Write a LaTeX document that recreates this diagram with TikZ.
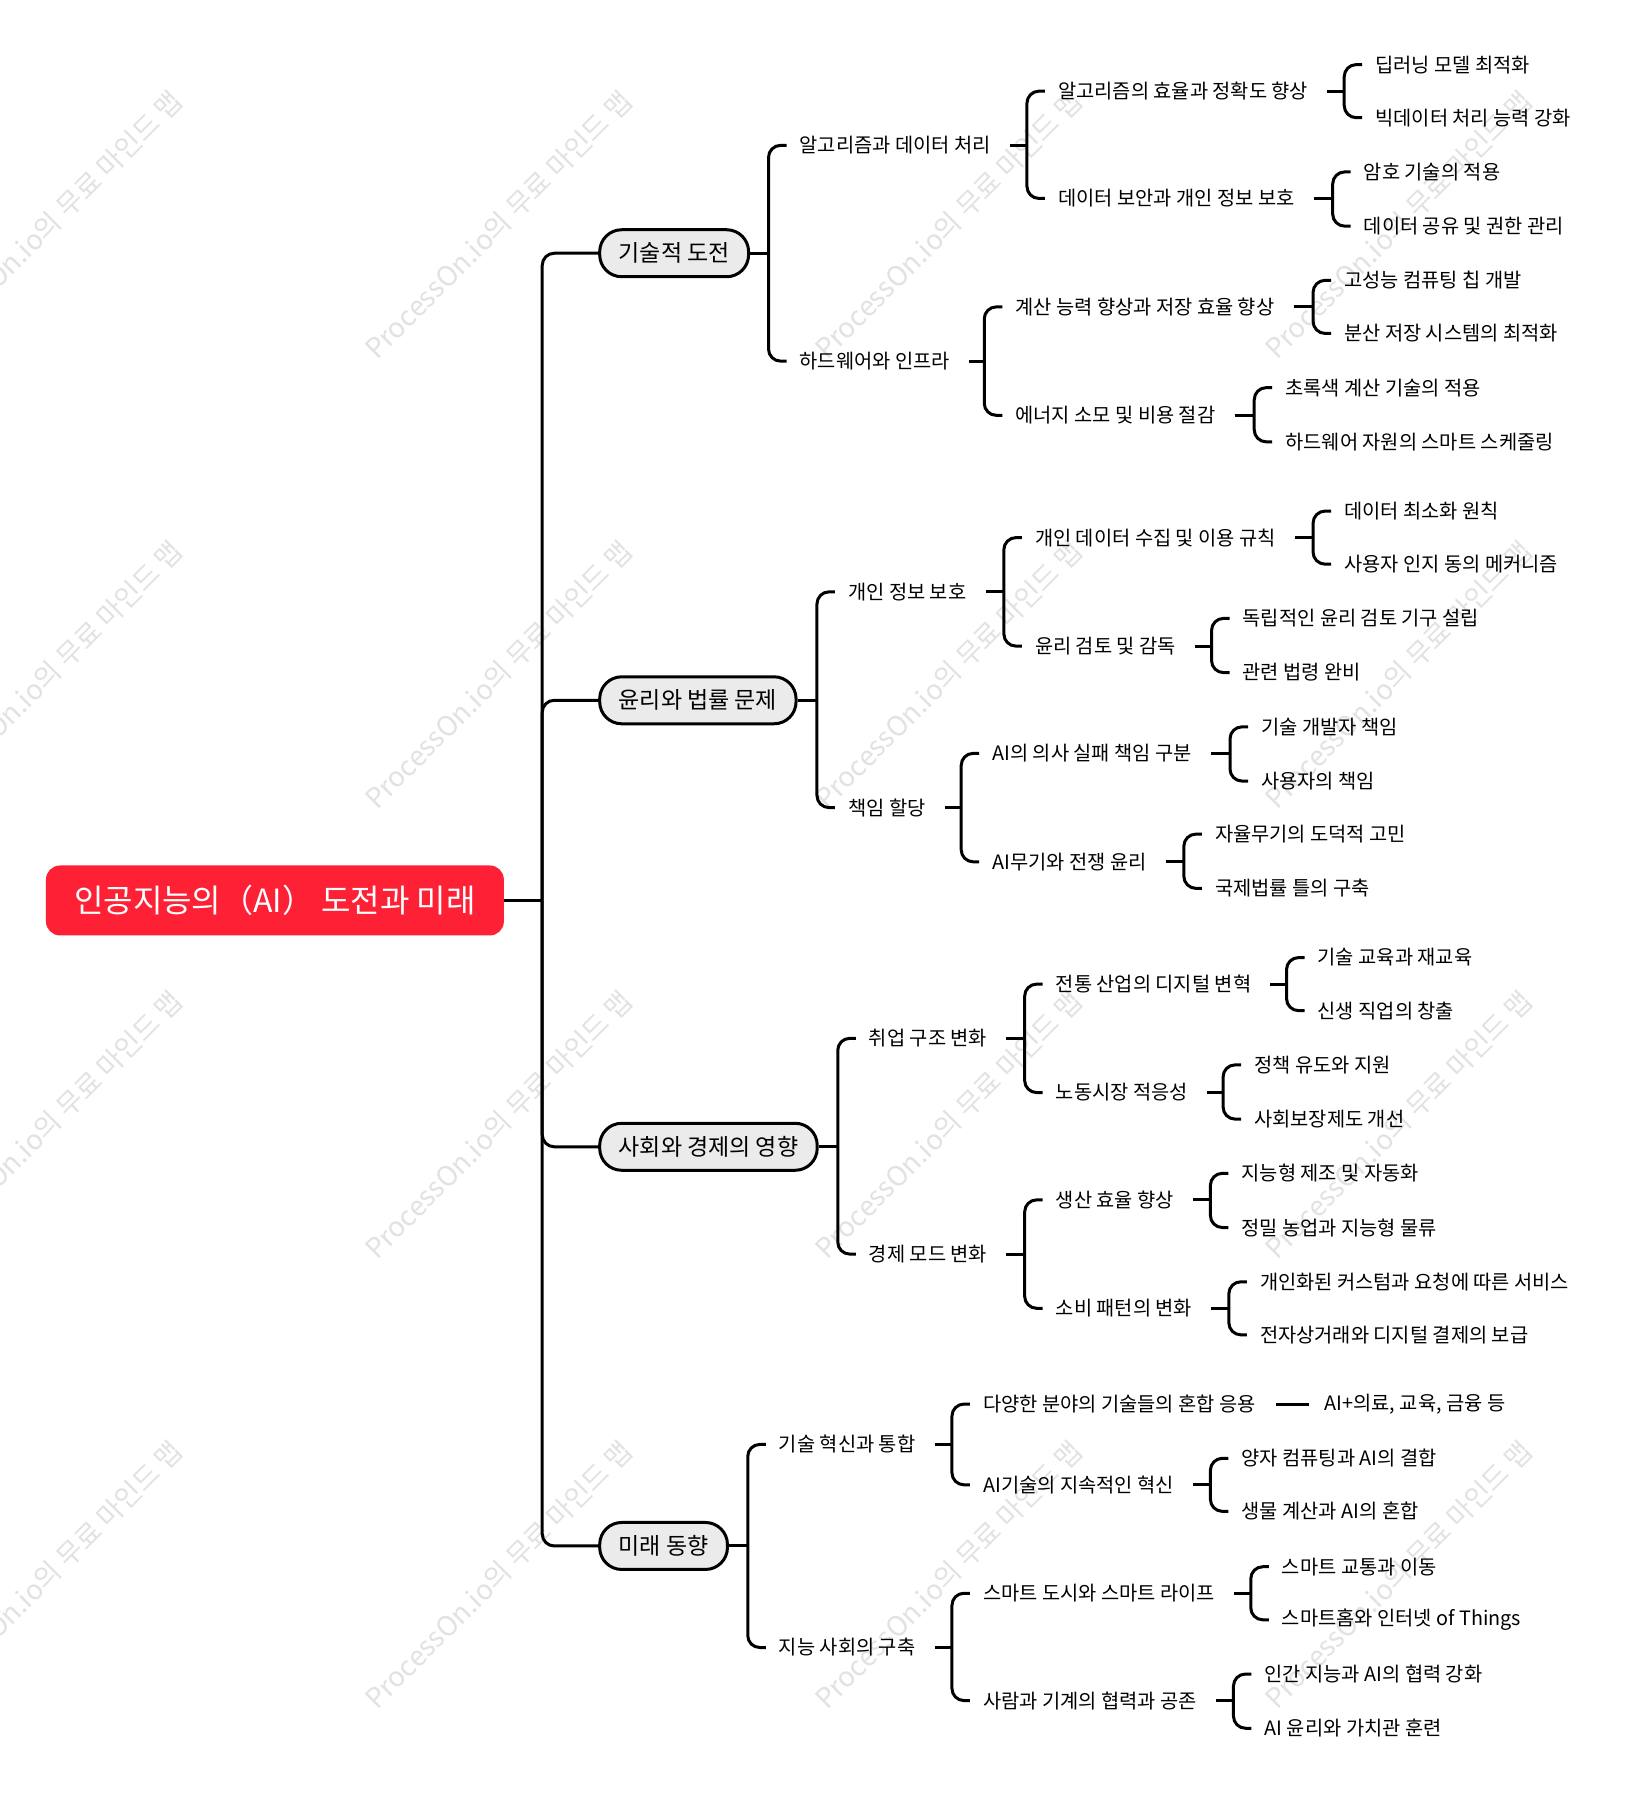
\documentclass[tikz,border=0pt]{standalone}
\usepackage{fontspec}
\setmainfont{Noto Sans CJK KR}
\usetikzlibrary{calc}
\definecolor{rootred}{RGB}{254,33,54}
\definecolor{pillgray}{RGB}{235,235,235}
\definecolor{wmgray}{RGB}{226,226,226}
\tikzset{
  conn/.style={line width=3pt, line join=round},
  rootbox/.style={fill=rootred, rounded corners=14pt, minimum width=458pt, minimum height=70pt,
    text=white, inner sep=0pt, font=\fontsize{32}{38}\selectfont},
  pill/.style={draw=black, line width=3pt, fill=pillgray, rounded corners=22pt, minimum height=47pt,
    inner xsep=19pt, inner ysep=0pt, anchor=west, font=\fontsize{23}{27}\selectfont},
  lbl/.style={anchor=west, inner sep=0pt, font=\fontsize{19.8}{24}\selectfont},
  wmark/.style={text=wmgray, rotate=45, inner sep=0pt, font=\fontsize{27.5}{32}\selectfont},
}
% #1 gap after parent, #2 parent, #3 first child, #4 second child
\newcommand{\mmbrk}[4]{%
  \draw[conn] let \p1=([xshift=-31pt]#3.west), \p2=([xshift=#1]#2.east) in (\p2) -- (\x1,\y2);
  \draw[conn, rounded corners=12pt] ([xshift=-13pt]#3.west) -- ([xshift=-31pt]#3.west)
    -- ([xshift=-31pt]#4.west) -- ([xshift=-13pt]#4.west);
}
\begin{document}
\begin{tikzpicture}[x=1.154pt, y=-1.154pt]
\fill[white] (0,0) rectangle (1416,1568);
\useasboundingbox (0,0) rectangle (1416,1568);

% watermarks
\foreach \wx in {42,432,822,1212} {
  \foreach \wy in {195,585,975,1365} {
    \node[wmark] (wm-\wx-\wy) at (\wx,\wy) {ProcessOn.io의 무료 마인드 맵};
  }
}

% root
\node[rootbox] (root) at (238.3,780.5) {인공지능의（AI） 도전과 미래};
\coordinate (J) at (470,780.5);

% level 1
\node[pill] (t1) at (518.5,219.5) {기술적 도전};
\node[pill] (t2) at (518.5,607) {윤리와 법률 문제};
\node[pill] (t3) at (518.5,994) {사회와 경제의 영향};
\node[pill] (t4) at (518.5,1340) {미래 동향};

% branch 1
\node[lbl] (t1a) at (693,126) {알고리즘과 데이터 처리};
\node[lbl] (t1a1) at (917,79) {알고리즘의 효율과 정확도 향상};
\node[lbl] (t1a1x) at (1192,56) {딥러닝 모델 최적화};
\node[lbl] (t1a1y) at (1192,102) {빅데이터 처리 능력 강화};
\node[lbl] (t1a2) at (917,172) {데이터 보안과 개인 정보 보호};
\node[lbl] (t1a2x) at (1182,149) {암호 기술의 적용};
\node[lbl] (t1a2y) at (1182,196) {데이터 공유 및 권한 관리};
\node[lbl] (t1b) at (693,313) {하드웨어와 인프라};
\node[lbl] (t1b1) at (880,266) {계산 능력 향상과 저장 효율 향상};
\node[lbl] (t1b1x) at (1165,243) {고성능 컴퓨팅 칩 개발};
\node[lbl] (t1b1y) at (1165,289) {분산 저장 시스템의 최적화};
\node[lbl] (t1b2) at (880,360) {에너지 소모 및 비용 절감};
\node[lbl] (t1b2x) at (1114,336) {초록색 계산 기술의 적용};
\node[lbl] (t1b2y) at (1114,383) {하드웨어 자원의 스마트 스케줄링};

% branch 2
\node[lbl] (t2a) at (735,513) {개인 정보 보호};
\node[lbl] (t2a1) at (897,466) {개인 데이터 수집 및 이용 규칙};
\node[lbl] (t2a1x) at (1165,443) {데이터 최소화 원칙};
\node[lbl] (t2a1y) at (1165,489) {사용자 인지 동의 메커니즘};
\node[lbl] (t2a2) at (897,560) {윤리 검토 및 감독};
\node[lbl] (t2a2x) at (1077,536) {독립적인 윤리 검토 기구 설립};
\node[lbl] (t2a2y) at (1077,583) {관련 법령 완비};
\node[lbl] (t2b) at (735,700) {책임 할당};
\node[lbl] (t2b1) at (860,653) {AI의 의사 실패 책임 구분};
\node[lbl] (t2b1x) at (1093,630) {기술 개발자 책임};
\node[lbl] (t2b1y) at (1093,677) {사용자의 책임};
\node[lbl] (t2b2) at (860,747) {AI무기와 전쟁 윤리};
\node[lbl] (t2b2x) at (1053,723) {자율무기의 도덕적 고민};
\node[lbl] (t2b2y) at (1053,770) {국제법률 틀의 구축};

% branch 3
\node[lbl] (t3a) at (753,900) {취업 구조 변화};
\node[lbl] (t3a1) at (915,853) {전통 산업의 디지털 변혁};
\node[lbl] (t3a1x) at (1142,830) {기술 교육과 재교육};
\node[lbl] (t3a1y) at (1142,876) {신생 직업의 창출};
\node[lbl] (t3a2) at (915,947) {노동시장 적응성};
\node[lbl] (t3a2x) at (1087,923) {정책 유도와 지원};
\node[lbl] (t3a2y) at (1087,970) {사회보장제도 개선};
\node[lbl] (t3b) at (753,1087) {경제 모드 변화};
\node[lbl] (t3b1) at (915,1040) {생산 효율 향상};
\node[lbl] (t3b1x) at (1076,1017) {지능형 제조 및 자동화};
\node[lbl] (t3b1y) at (1076,1064) {정밀 농업과 지능형 물류};
\node[lbl] (t3b2) at (915,1134) {소비 패턴의 변화};
\node[lbl] (t3b2x) at (1092,1111) {개인화된 커스텀과 요청에 따른 서비스};
\node[lbl] (t3b2y) at (1092,1157) {전자상거래와 디지털 결제의 보급};

% branch 4
\node[lbl] (t4a) at (675,1252) {기술 혁신과 통합};
\node[lbl] (t4a1) at (852,1217) {다양한 분야의 기술들의 혼합 응용};
\node[lbl] (t4a1x) at (1148,1217) {AI+의료, 교육, 금융 등};
\node[lbl] (t4a2) at (852,1287) {AI기술의 지속적인 혁신};
\node[lbl] (t4a2x) at (1076,1264) {양자 컴퓨팅과 AI의 결합};
\node[lbl] (t4a2y) at (1076,1310) {생물 계산과 AI의 혼합};
\node[lbl] (t4b) at (675,1428) {지능 사회의 구축};
\node[lbl] (t4b1) at (852,1381) {스마트 도시와 스마트 라이프};
\node[lbl] (t4b1x) at (1111,1358) {스마트 교통과 이동};
\node[lbl] (t4b1y) at (1111,1404) {스마트홈와 인터넷 of Things};
\node[lbl] (t4b2) at (852,1474) {사람과 기계의 협력과 공존};
\node[lbl] (t4b2x) at (1096,1451) {인간 지능과 AI의 협력 강화};
\node[lbl] (t4b2y) at (1096,1498) {AI 윤리와 가치관 훈련};

% trunk
\draw[conn] (root.east) -- (J);
\foreach \t in {t1,t2,t3,t4} {
  \draw[conn, rounded corners=12pt] (J) -- (J |- \t.west) -- (\t.west);
}

% brackets
\mmbrk{0pt}{t1}{t1a}{t1b}
\mmbrk{19pt}{t1a}{t1a1}{t1a2}
\mmbrk{19pt}{t1a1}{t1a1x}{t1a1y}
\mmbrk{19pt}{t1a2}{t1a2x}{t1a2y}
\mmbrk{19pt}{t1b}{t1b1}{t1b2}
\mmbrk{19pt}{t1b1}{t1b1x}{t1b1y}
\mmbrk{19pt}{t1b2}{t1b2x}{t1b2y}

\mmbrk{0pt}{t2}{t2a}{t2b}
\mmbrk{19pt}{t2a}{t2a1}{t2a2}
\mmbrk{19pt}{t2a1}{t2a1x}{t2a1y}
\mmbrk{19pt}{t2a2}{t2a2x}{t2a2y}
\mmbrk{19pt}{t2b}{t2b1}{t2b2}
\mmbrk{19pt}{t2b1}{t2b1x}{t2b1y}
\mmbrk{19pt}{t2b2}{t2b2x}{t2b2y}

\mmbrk{0pt}{t3}{t3a}{t3b}
\mmbrk{19pt}{t3a}{t3a1}{t3a2}
\mmbrk{19pt}{t3a1}{t3a1x}{t3a1y}
\mmbrk{19pt}{t3a2}{t3a2x}{t3a2y}
\mmbrk{19pt}{t3b}{t3b1}{t3b2}
\mmbrk{19pt}{t3b1}{t3b1x}{t3b1y}
\mmbrk{19pt}{t3b2}{t3b2x}{t3b2y}

\mmbrk{0pt}{t4}{t4a}{t4b}
\mmbrk{19pt}{t4a}{t4a1}{t4a2}
\mmbrk{19pt}{t4a2}{t4a2x}{t4a2y}
\mmbrk{19pt}{t4b}{t4b1}{t4b2}
\mmbrk{19pt}{t4b1}{t4b1x}{t4b1y}
\mmbrk{19pt}{t4b2}{t4b2x}{t4b2y}
\draw[conn] ([xshift=20pt]t4a1.east) -- ([xshift=-15pt]t4a1x.west);
\end{tikzpicture}
\end{document}
